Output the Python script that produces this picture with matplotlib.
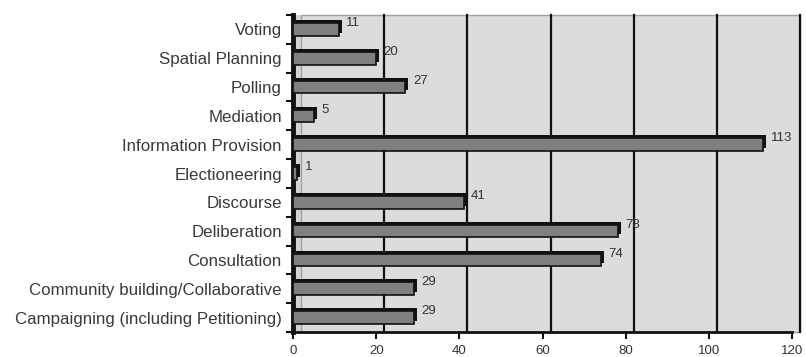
import matplotlib
matplotlib.use("Agg")
import matplotlib.pyplot as plt
import matplotlib.transforms as mtransforms
from matplotlib.patches import Rectangle
import numpy as np

# data (top to bottom as in the picture)
categories = ["Voting", "Spatial Planning", "Polling", "Mediation",
              "Information Provision", "Electioneering", "Discourse",
              "Deliberation", "Consultation", "Community building/Collaborative",
              "Campaigning (including Petitioning)"]
counts = [11, 20, 27, 5, 113, 1, 41, 78, 74, 29, 29]
xticks = [0, 20, 40, 60, 80, 100, 120]

plt.rcParams['font.family'] = ['Liberation Sans', 'DejaVu Sans']

fig = plt.figure(figsize=(8.06, 3.57), dpi=100)
ax = fig.add_axes([0.3635, 0.070, 0.6195, 0.888])
ax.set_facecolor("#d4d4d4")

n = len(categories)
ypos = np.arange(n)[::-1]
h = 0.44

# back wall, shifted right for the 3d look
depth = mtransforms.ScaledTranslation(8 / 100, 0, fig.dpi_scale_trans)
wall = Rectangle((0, 0), 1, 1, transform=ax.transAxes + depth,
                 facecolor="#dcdcdc", edgecolor="#a0a0a0", lw=1.0,
                 zorder=0.5, clip_on=False)
ax.add_patch(wall)
for g in xticks[1:]:
    ax.plot([g, g], [0, 1], color="#111111", lw=1.6, zorder=1,
            transform=ax.get_xaxis_transform() + depth, clip_on=False)

# bar shadow then bar face
shadow = mtransforms.ScaledTranslation(3 / 100, 3 / 100, fig.dpi_scale_trans)
sh = ax.barh(ypos, counts, height=h, color="#111111", zorder=2)
for p in sh:
    p.set_transform(ax.transData + shadow)
ax.barh(ypos, counts, height=h, color="#7f7f7f", edgecolor="#111111",
        linewidth=1.2, zorder=3)

for y, v in zip(ypos, counts):
    ax.text(v + 1.8, y + 0.22, str(v), fontsize=9.5, color="#333333",
            va="center", ha="left", zorder=4)

ax.set_xlim(0, 120)
ax.set_ylim(-0.5, n - 0.5)
ax.set_xticks(xticks)
ax.set_xticklabels([str(t) for t in xticks], fontsize=9.5, color="#333333")
ax.set_yticks(ypos)
ax.set_yticklabels(categories, fontsize=12.2, color="#3a3a3a")
ax.set_yticks(np.arange(-0.5, n, 1.0), minor=True)
ax.tick_params(axis="y", which="major", length=0, pad=8)
ax.tick_params(axis="y", which="minor", length=5, width=1.5, color="#111111")
ax.tick_params(axis="x", length=5, width=1.5, color="#111111", pad=4)

for s in ["top", "right"]:
    ax.spines[s].set_visible(False)
ax.spines["left"].set_linewidth(3.5)
ax.spines["bottom"].set_linewidth(2.0)
ax.spines["left"].set_color("#111111")
ax.spines["bottom"].set_color("#111111")

fig.savefig("out.png", dpi=100)
